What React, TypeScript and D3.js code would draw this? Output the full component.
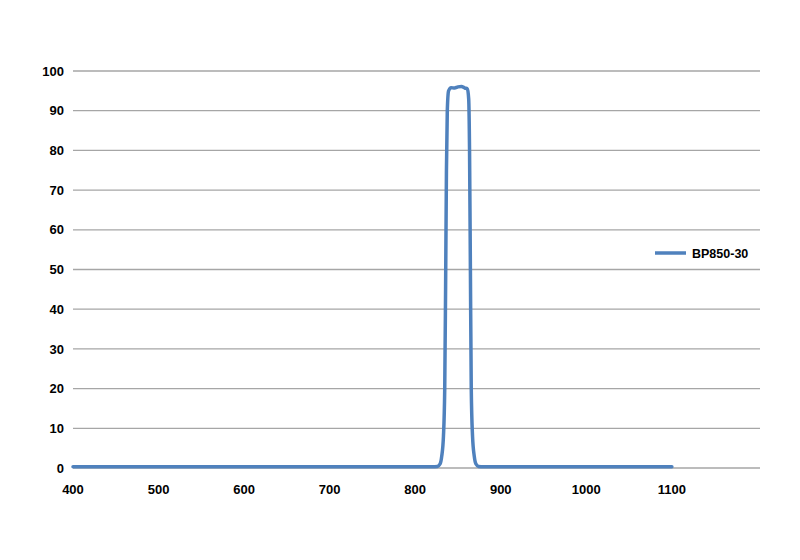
import React from "react";
import * as d3 from "d3";

const wavelengths = [400, 820, 826, 829, 831, 833, 834.5, 835.5, 836.5, 837.5, 839, 842, 846, 850, 854, 858, 861, 862.5, 863.5, 864.5, 865.5, 867, 869, 871, 874, 880, 1100];
const transmission = [0.3, 0.3, 0.4, 1, 3, 8, 20, 45, 75, 90, 95, 95.8, 95.7, 96, 96.1, 95.7, 95.5, 93, 80, 50, 20, 8, 3, 1, 0.4, 0.3, 0.3];
const xTicks = [400, 500, 600, 700, 800, 900, 1000, 1100];
const yTicks = [0, 10, 20, 30, 40, 50, 60, 70, 80, 90, 100];
const seriesName = "BP850-30";

export default function App() {
  const W = 800, H = 560;
  const x = d3.scaleLinear().domain([400, 1203]).range([73, 760]);
  const y = d3.scaleLinear().domain([0, 100]).range([468, 71]);
  const pts = wavelengths.map((w, i) => [w, transmission[i]] as [number, number]);
  const line = d3.line<[number, number]>().x(d => x(d[0])).y(d => y(d[1])).curve(d3.curveMonotoneX);
  const font = "'Liberation Sans', Arial, sans-serif";
  return (
    <div style={{ position: "absolute", left: 0, top: 0 }}>
      <svg width={W} height={H} style={{ display: "block" }}>
        <rect width={W} height={H} fill="#fff" />
        {yTicks.map(t => (
          <g key={t}>
            <line x1={73} x2={760} y1={y(t)} y2={y(t)} stroke="#a6a6a6" strokeWidth={1.3} />
            <text x={64} y={y(t)} dy="0.36em" textAnchor="end" fontFamily={font} fontWeight="bold" fontSize={13} fill="#000">{t}</text>
          </g>
        ))}
        {xTicks.map(t => (
          <text key={t} x={x(t)} y={489} dy="0.36em" textAnchor="middle" fontFamily={font} fontWeight="bold" fontSize={13} fill="#000">{t}</text>
        ))}
        <path d={line(pts) || ""} fill="none" stroke="#4f81bd" strokeWidth={3.5} strokeLinejoin="round" strokeLinecap="round" />
        <line x1={655} x2={686} y1={253} y2={253} stroke="#4f81bd" strokeWidth={3.5} />
        <text x={692} y={253} dy="0.36em" fontFamily={font} fontWeight="bold" fontSize={12.5} fill="#000">{seriesName}</text>
      </svg>
    </div>
  );
}
